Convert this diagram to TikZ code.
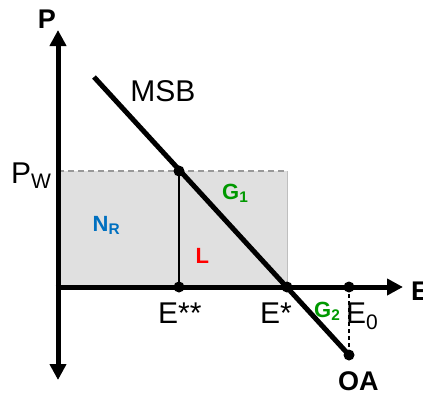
\documentclass[tikz,border=0pt]{standalone}
\usepackage{fontspec}
\setmainfont{Liberation Sans}
\usetikzlibrary{arrows.meta,positioning}
\definecolor{gainsgreen}{RGB}{0,153,0}
\definecolor{rentblue}{RGB}{0,112,192}

\begin{document}
\begin{tikzpicture}[
  x=1pt, y=-1pt,
  axis/.style={line width=5pt, -{Triangle[length=16pt, width=16pt]}},
  curve/.style={line width=5pt},
  dot/.style={circle, fill, inner sep=0pt, minimum size=11pt},
  lbl/.style={font=\fontsize{30}{34}\selectfont, inner sep=0pt},
  axislbl/.style={font=\bfseries\fontsize{27}{32}\selectfont, inner sep=0pt},
  arealbl/.style={font=\bfseries\fontsize{22}{26}\selectfont, inner sep=0pt},
  rentbox/.style={fill=black!12}
]
\useasboundingbox (0,0) rectangle (423,397);

\coordinate (origin) at (58,287);
\coordinate (pw) at (58,171);
\coordinate (ptop) at (58,30);
\coordinate (pbot) at (58,380);
\coordinate (etip) at (403,287);
\coordinate (msbtop) at (94,77);
\coordinate (corner) at (287,171);

\fill[rentbox] (pw) rectangle (287,287);
\draw[black!25, line width=1pt] (corner) -- (287,287);
\draw[black!40, line width=1.8pt, dash pattern=on 6pt off 4pt] (pw) -- (corner);

\node[dot] (wdot) at (179,171) {};
\node[dot] (essdot) at (179,287) {};
\node[dot] (esdot) at (287,287) {};
\node[dot] (ezdot) at (349,287) {};
\node[dot] (oadot) at (349,355) {};

\draw[line width=1.5pt] (wdot.center) -- (essdot.center);
\draw[line width=1.5pt, dash pattern=on 4pt off 3pt] (ezdot.center) -- (oadot.center);
\draw[axis, {Triangle[length=16pt, width=16pt]}-{Triangle[length=16pt, width=16pt]}] (pbot) -- (ptop);
\draw[axis] ([xshift=-2.5pt]origin) -- (etip);
\draw[curve] (msbtop) -- (oadot.center);

\node[axislbl] (plbl) at (47,19) {P};
\node[axislbl, anchor=base west] (elbl) at (411,300) {E};
\node[axislbl, anchor=base west] (oalbl) at (338,390) {OA};
\node[lbl] (msblbl) at (163,91) {MSB};
\node[lbl, anchor=base west] (pwlbl) at (11,183) {P\textsubscript{W}};
\node[lbl, anchor=base west] (esslbl) at (158,323) {E**};
\node[lbl, anchor=base west] (eslbl) at (260,323) {E*};
\node[lbl, anchor=base west] (ezlbl) at (346,323) {E\textsubscript{0}};
\node[arealbl, text=gainsgreen, anchor=base west] (gonelbl) at (222,199) {G\textsubscript{1}};
\node[arealbl, text=gainsgreen, anchor=base west] (gtwolbl) at (314,317) {G\textsubscript{2}};
\node[arealbl, text=rentblue, anchor=base west] (nrlbl) at (92.5,231) {N\textsubscript{R}};
\node[arealbl, text=red, anchor=base west] (llbl) at (195.5,263) {L};
\end{tikzpicture}
\end{document}
